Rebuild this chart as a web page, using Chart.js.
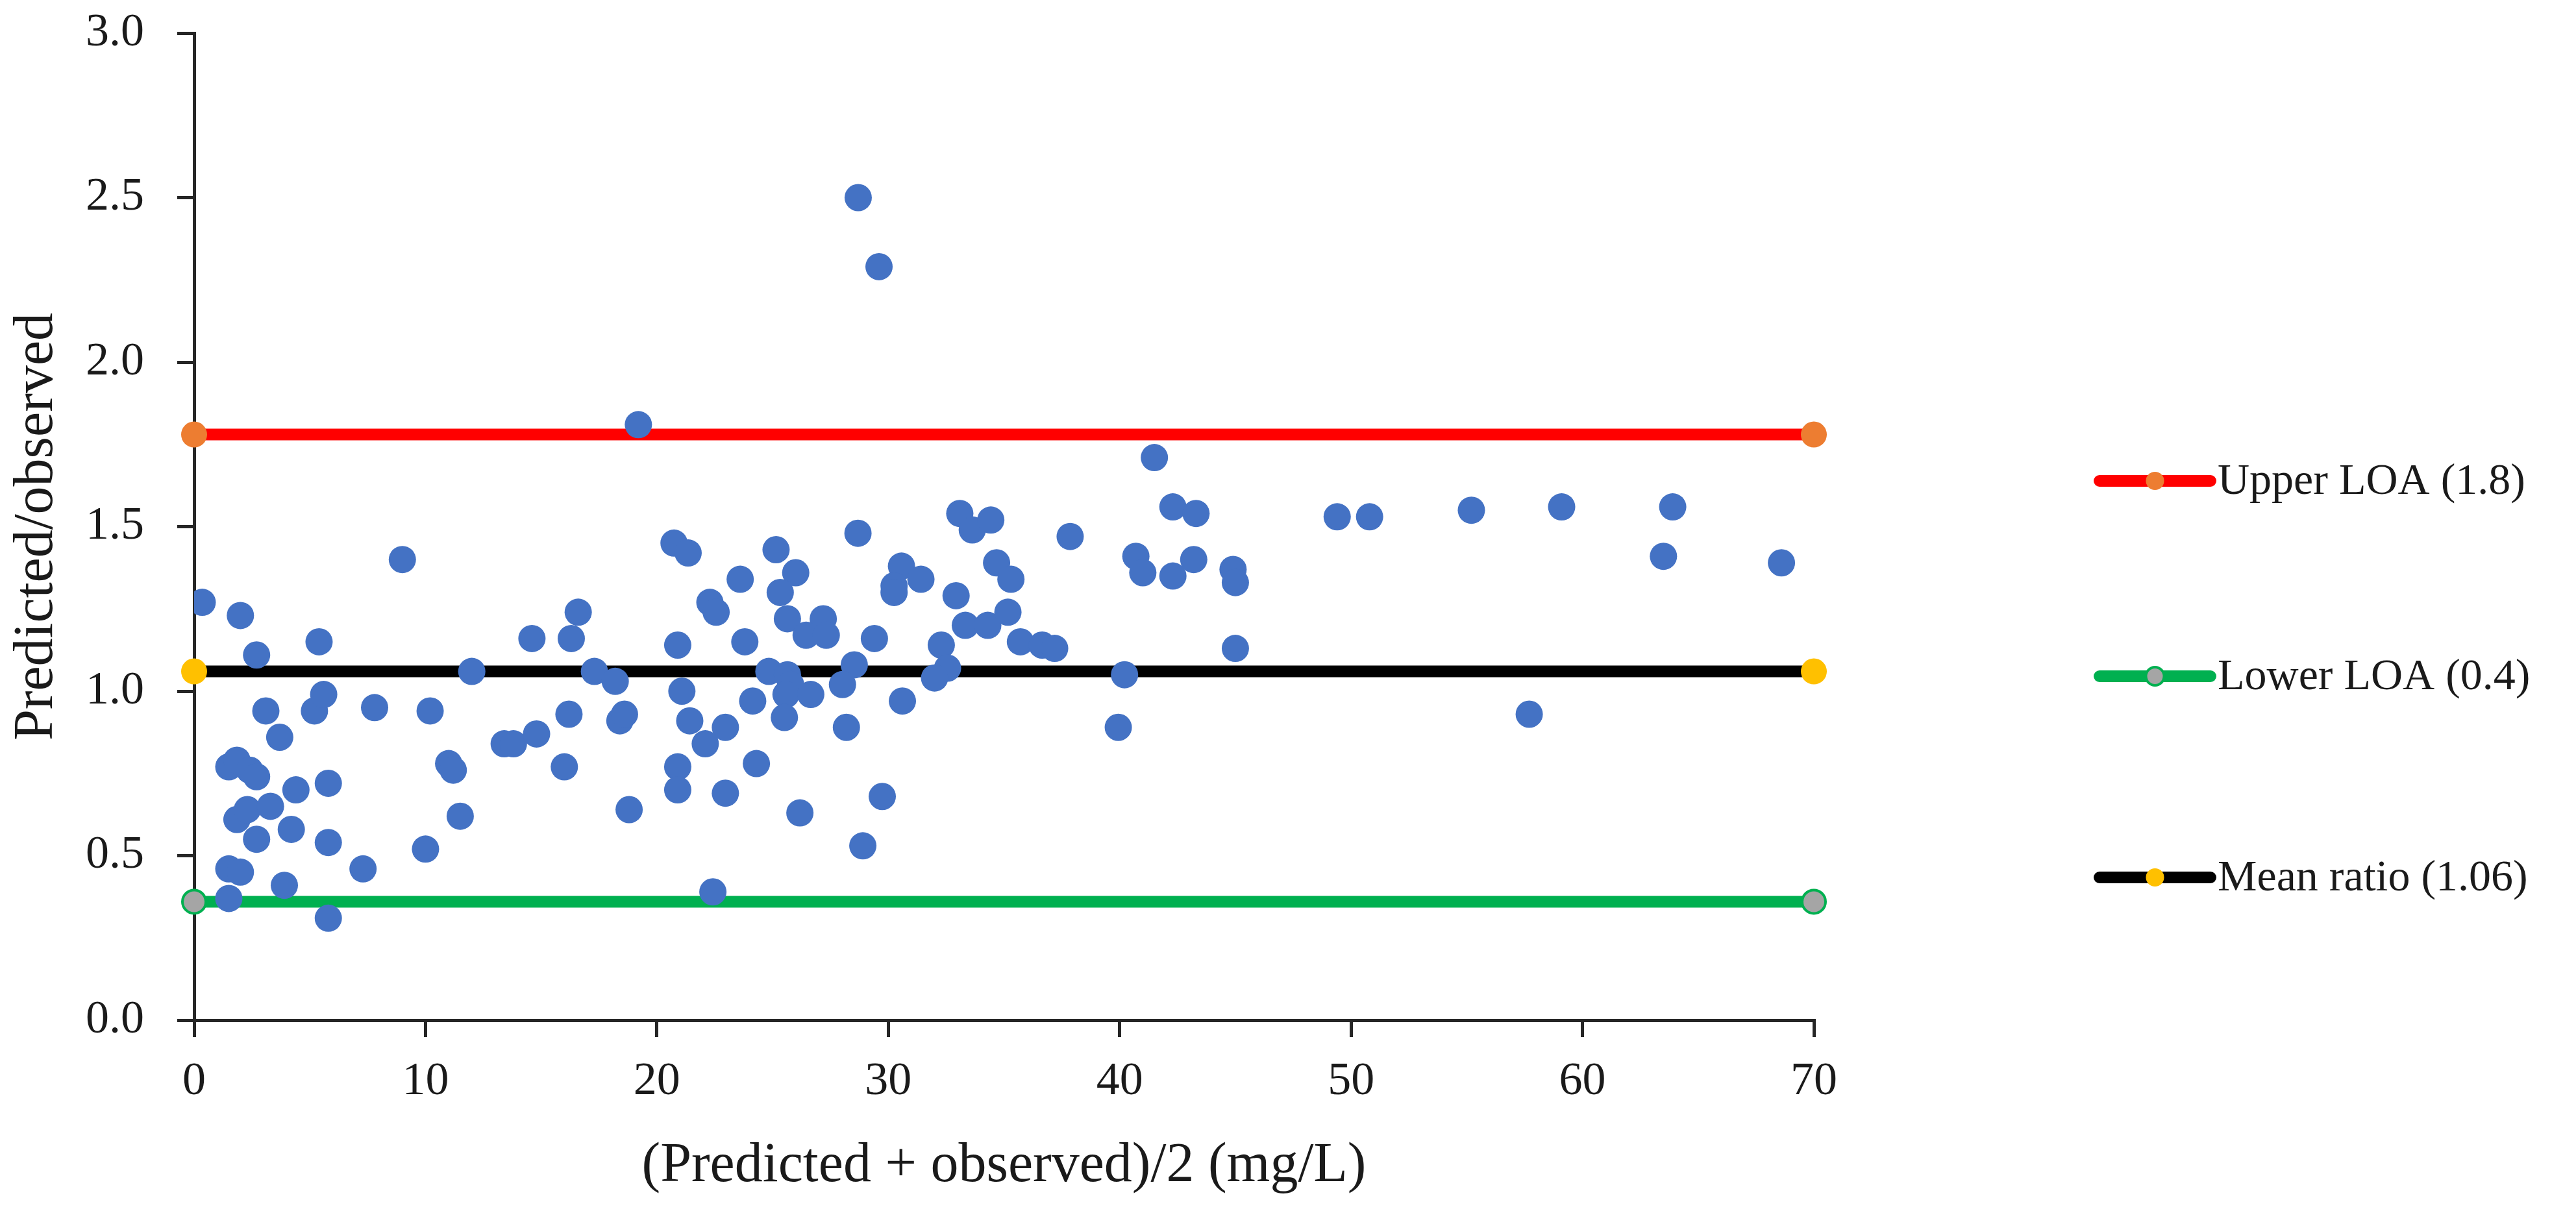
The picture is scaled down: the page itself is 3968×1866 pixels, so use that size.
<!DOCTYPE html>
<html>
<head>
<meta charset="utf-8">
<script src="https://cdn.jsdelivr.net/npm/chart.js@4.4.1/dist/chart.umd.min.js"></script>
<style>
  html, body { margin: 0; padding: 0; background: #fff; }
  #wrap { width: 3968px; height: 1866px; }
</style>
</head>
<body>
<div id="wrap"><canvas id="ba_chart"></canvas></div>
<script>
// (Predicted + observed)/2 in mg/L
const meanValues = [
  0.35, 2.0, 2.7, 5.4, 3.1, 3.7, 5.2, 5.6, 7.8, 10.2,
  1.5, 1.85, 2.4, 2.7, 4.4, 5.8, 1.85, 2.3, 3.3, 4.2,
  2.7, 5.8, 7.3, 10.0, 11.0, 11.2, 11.5, 12.0, 13.4, 13.8,
  14.8, 14.6, 16.0, 16.2, 16.3, 16.6, 17.3, 18.2, 18.4, 18.6,
  18.8, 1.5, 2.0, 3.9, 1.5, 5.8, 9.0, 19.2,
  20.74, 21.35, 25.15, 23.6, 26.0, 28.69, 33.09, 33.63, 34.43, 37.86,
  40.7, 41.0, 22.29, 22.56, 25.33, 34.68, 35.3, 30.57, 30.25, 30.25,
  31.41, 32.93, 25.64, 27.19, 26.45, 27.32, 20.9, 23.8, 29.4, 33.33,
  34.3, 35.17, 35.71, 36.65, 37.19, 32.29, 32.56, 32.0, 24.84, 25.64,
  25.78, 25.58, 26.65, 25.51, 28.53, 28.02, 30.61, 40.21, 39.94, 21.08,
  21.42, 22.96, 22.09, 24.14, 20.9, 20.9, 22.96, 24.3, 28.19, 26.18,
  29.74, 28.9, 22.42, 28.7, 29.6,
  41.5, 42.3, 42.3, 43.2, 43.3, 44.9, 45.0, 45.0, 49.4, 50.8,
  55.2, 57.7, 59.1, 63.5, 63.9, 68.6
];
// Predicted/observed ratio for each point above
const ratioValues = [
  1.27, 1.23, 1.11, 1.15, 0.94, 0.86, 0.94, 0.99, 0.95, 0.94,
  0.77, 0.79, 0.76, 0.74, 0.70, 0.72, 0.61, 0.64, 0.65, 0.58,
  0.55, 0.54, 0.46, 0.52, 0.78, 0.76, 0.62, 1.06, 0.84, 0.84,
  0.87, 1.16, 0.77, 0.93, 1.16, 1.24, 1.06, 1.03, 0.91, 0.93,
  0.64, 0.46, 0.45, 0.41, 0.37, 0.31, 1.40, 1.81,
  1.45, 1.42, 1.43, 1.34, 1.36, 1.48, 1.54, 1.49, 1.52, 1.47,
  1.41, 1.36, 1.27, 1.24, 1.30, 1.39, 1.34, 1.38, 1.32, 1.30,
  1.34, 1.29, 1.22, 1.22, 1.17, 1.17, 1.14, 1.15, 1.16, 1.20,
  1.20, 1.24, 1.15, 1.14, 1.13, 1.14, 1.07, 1.04, 1.06, 1.05,
  1.02, 0.99, 0.99, 0.92, 1.08, 1.02, 0.97, 1.05, 0.89, 1.00,
  0.91, 0.89, 0.84, 0.97, 0.77, 0.70, 0.69, 0.78, 0.89, 0.63,
  0.68, 0.53, 0.39, 2.50, 2.29,
  1.71, 1.56, 1.35, 1.40, 1.54, 1.37, 1.33, 1.13, 1.53, 1.53,
  1.55, 0.93, 1.56, 1.41, 1.56, 1.39
];

const lineEnds = [0, 70];
const upperLOA = 1.78;
const lowerLOA = 0.36;
const meanRatio = 1.06;
const legendLabels = ['Upper LOA (1.8)', 'Lower LOA (0.4)', 'Mean ratio (1.06)'];

const FONT = "'Liberation Serif', 'Times New Roman', serif";
const INK = '#1a1a1a';
const AXIS = '#262626';

function hline(value) {
  return lineEnds.map(x => ({ x: x, y: value }));
}

// legend on the right: line with a dot in the middle, then the label
const sideLegend = {
  id: 'sideLegend',
  afterDraw(chart) {
    const ctx = chart.ctx;
    const rows = [741, 1042, 1352];
    const x0 = 3234, x1 = 3405, textX = 3416;
    const lines = chart.data.datasets.filter(d => d.type === 'line');
    ctx.save();
    lines.forEach((d, i) => {
      const y = rows[i];
      ctx.beginPath();
      ctx.lineCap = 'round';
      ctx.lineWidth = 18;
      ctx.strokeStyle = d.borderColor;
      ctx.moveTo(x0, y);
      ctx.lineTo(x1, y);
      ctx.stroke();
      ctx.beginPath();
      ctx.arc((x0 + x1) / 2, y, 14, 0, Math.PI * 2);
      ctx.fillStyle = d.pointBackgroundColor;
      ctx.fill();
      if (d.pointBorderWidth > 0) {
        ctx.lineWidth = 4;
        ctx.strokeStyle = d.pointBorderColor;
        ctx.stroke();
      }
      ctx.fillStyle = INK;
      ctx.font = '68px ' + FONT;
      ctx.textAlign = 'left';
      ctx.textBaseline = 'middle';
      ctx.fillText(d.label, textX, y + 2);
    });
    ctx.restore();
  }
};

const ctx = document.getElementById('ba_chart').getContext('2d');
const chart = new Chart(ctx, {
  data: {
    datasets: [
      {
        type: 'scatter',
        label: 'Ratio',
        data: meanValues.map((m, i) => ({ x: m, y: ratioValues[i] })),
        backgroundColor: '#4472C4',
        borderColor: '#4472C4',
        borderWidth: 0,
        pointRadius: 21,
        order: 0
      },
      {
        type: 'line',
        label: legendLabels[0],
        data: hline(upperLOA),
        borderColor: '#FF0000',
        borderWidth: 18,
        pointRadius: 20,
        pointBackgroundColor: '#ED7D31',
        pointBorderColor: '#ED7D31',
        pointBorderWidth: 0,
        clip: false,
        order: 1
      },
      {
        type: 'line',
        label: legendLabels[1],
        data: hline(lowerLOA),
        borderColor: '#00B050',
        borderWidth: 18,
        pointRadius: 18,
        pointBackgroundColor: '#A5A5A5',
        pointBorderColor: '#00B050',
        pointBorderWidth: 4,
        clip: false,
        order: 2
      },
      {
        type: 'line',
        label: legendLabels[2],
        data: hline(meanRatio),
        borderColor: '#000000',
        borderWidth: 18,
        pointRadius: 20,
        pointBackgroundColor: '#FFC000',
        pointBorderColor: '#FFC000',
        pointBorderWidth: 0,
        clip: false,
        order: 3
      }
    ]
  },
  options: {
    responsive: true,
    maintainAspectRatio: false,
    devicePixelRatio: 1,
    animation: false,
    events: [],
    layout: { padding: { top: 51, right: 1174, bottom: 0, left: 0 } },
    plugins: {
      legend: { display: false },
      tooltip: { enabled: false }
    },
    scales: {
      x: {
        type: 'linear',
        min: 0,
        max: 70,
        ticks: {
          stepSize: 10,
          padding: 26,
          color: INK,
          font: { family: FONT, size: 72 }
        },
        grid: {
          drawOnChartArea: false,
          drawTicks: true,
          tickLength: 26,
          color: AXIS,
          lineWidth: 5
        },
        border: { display: true, color: AXIS, width: 5 },
        title: {
          display: true,
          text: '(Predicted + observed)/2 (mg/L)',
          color: INK,
          font: { family: FONT, size: 86 },
          padding: { top: 0, bottom: 17 }
        },
        afterFit(scale) { scale.height = 294; }
      },
      y: {
        type: 'linear',
        min: 0,
        max: 3,
        ticks: {
          stepSize: 0.5,
          padding: 51,
          color: INK,
          font: { family: FONT, size: 72 },
          callback: v => v.toFixed(1)
        },
        grid: {
          drawOnChartArea: false,
          drawTicks: true,
          tickLength: 26,
          color: AXIS,
          lineWidth: 5
        },
        border: { display: true, color: AXIS, width: 5 },
        title: {
          display: true,
          text: 'Predicted/observed',
          color: INK,
          font: { family: FONT, size: 86 },
          padding: { top: 6, bottom: 0 }
        },
        afterFit(scale) {
          scale.width = 299;
          scale.paddingTop = 0;
          scale.paddingBottom = 0;
        }
      }
    }
  },
  plugins: [sideLegend]
});
</script>
</body>
</html>
